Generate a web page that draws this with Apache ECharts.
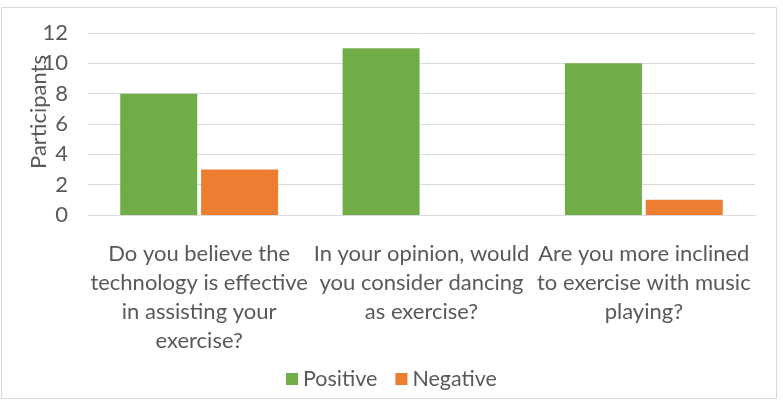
<!DOCTYPE html>
<html>
<head>
<meta charset="utf-8">
<script src="https://cdn.jsdelivr.net/npm/echarts@6/dist/echarts.min.js"></script>
<style>html,body{margin:0;padding:0;background:#fff}#c{width:783px;height:404px}</style>
</head>
<body>
<div id="c"></div>
<script>
const categories = [
  "Do you believe the\ntechnology is effective\nin assisting your\nexercise?",
  "In your opinion, would\nyou consider dancing\nas exercise?",
  "Are you more inclined\nto exercise with music\nplaying?"
];
const positive = [8, 11, 10];
const negative = [3, 0, 1];
const yTicks = { min: 0, max: 12, interval: 2 };

const font = 'Lato';
const txt = '#595959';
const chart = echarts.init(document.getElementById('c'), null, { renderer: 'canvas' });
chart.setOption({
  animation: false,
  textStyle: { fontFamily: font },
  graphic: [{
    type: 'rect', shape: { x: 1.5, y: 7.5, width: 775, height: 391 },
    style: { fill: 'none', stroke: '#d9d9d9', lineWidth: 1 }, z: -1
  }],
  grid: { left: 88, right: 28, top: 33, bottom: 189 },
  legend: {
    bottom: 9, left: 'center', icon: 'rect', itemWidth: 12, itemHeight: 12, itemGap: 18,
    textStyle: { fontFamily: font, fontSize: 21.5, color: txt },
    data: ['Positive', 'Negative']
  },
  xAxis: {
    type: 'category', data: categories,
    axisLine: { lineStyle: { color: '#d9d9d9' } },
    axisTick: { show: false },
    axisLabel: { interval: 0, color: txt, fontFamily: font, fontSize: 22, lineHeight: 29, margin: 24 }
  },
  yAxis: {
    type: 'value', min: yTicks.min, max: yTicks.max, interval: yTicks.interval,
    name: 'Participants', nameLocation: 'middle', nameGap: 38, nameMoveOverlap: false,
    nameTextStyle: { color: txt, fontFamily: font, fontSize: 22, padding: [0, 0, 0, 24] },
    axisLine: { show: false }, axisTick: { show: false },
    axisLabel: { color: txt, fontFamily: font, fontSize: 22, margin: 20 },
    splitLine: { lineStyle: { color: '#d9d9d9' } }
  },
  series: [
    { name: 'Positive', type: 'bar', data: positive, barGap: '5%', barCategoryGap: '29%', itemStyle: { color: '#70AD47' } },
    { name: 'Negative', type: 'bar', data: negative, itemStyle: { color: '#ED7D31' } }
  ]
});
</script>
</body>
</html>
